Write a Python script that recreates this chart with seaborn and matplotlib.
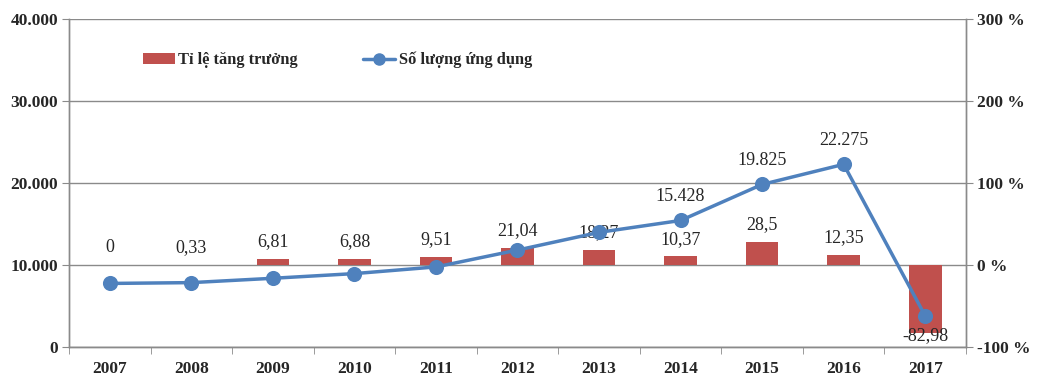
import numpy as np
import matplotlib
matplotlib.use("Agg")
import matplotlib.pyplot as plt
from matplotlib.ticker import FuncFormatter
from matplotlib.patches import Patch
from matplotlib.lines import Line2D
import seaborn as sns

# ==============================
# DATA
# ==============================

years = ["2007", "2008", "2009", "2010", "2011", "2012",
         "2013", "2014", "2015", "2016", "2017"]
growth = [0, 0.33, 6.81, 6.88, 9.51, 21.04, 18.27, 10.37, 28.5, 12.35, -82.98]
apps = [7750, 7850, 8380, 8950, 9765, 11819, 13979, 15428, 19825, 22275, 3791]
apps_labels = {"2014": "15.428", "2015": "19.825", "2016": "22.275"}

BAR_COLOR = "#C0504D"
LINE_COLOR = "#4F81BD"
AXIS_GRAY = "#8A8A8A"

# ==============================
# STYLE
# ==============================

sns.set_style("white")
plt.rcParams["font.family"] = ["Liberation Serif", "DejaVu Serif"]
plt.rcParams["font.weight"] = "bold"

fig, ax = plt.subplots(figsize=(10.38, 3.84), dpi=100)
fig.subplots_adjust(left=0.0665, right=0.9306, top=0.9505, bottom=0.0964)
ax2 = ax.twinx()

# bars: growth rate on the right axis
sns.barplot(x=years, y=growth, ax=ax2, color=BAR_COLOR, width=0.4,
            saturation=1, errorbar=None, linewidth=0, zorder=2)

# line: number of apps on the left axis
sns.pointplot(x=years, y=apps, ax=ax, color=LINE_COLOR, markers="o",
              markersize=9, linewidth=2.5, errorbar=None)

ax.set_zorder(ax2.get_zorder() + 1)
ax.patch.set_visible(False)

# ==============================
# AXES
# ==============================

ax.set_ylim(0, 40000)
ax.set_yticks([0, 10000, 20000, 30000, 40000])
ax.yaxis.set_major_formatter(FuncFormatter(lambda v, p: f"{int(v):,}".replace(",", ".")))
ax2.set_ylim(-100, 300)
ax2.set_yticks([-100, 0, 100, 200, 300])
ax2.yaxis.set_major_formatter(FuncFormatter(lambda v, p: f"{int(v)} %"))

ax2.yaxis.grid(True, color=AXIS_GRAY, linewidth=1)
ax2.set_axisbelow(True)
ax.grid(False)

ax.set_xlim(-0.5, len(years) - 0.5)
ax.set_xticks(np.arange(-0.5, len(years), 1), minor=True)
ax.tick_params(axis="x", which="major", length=0, pad=10, labelsize=12.5)
ax.tick_params(axis="x", which="minor", length=5, color=AXIS_GRAY, bottom=True)
ax.tick_params(axis="y", which="major", length=5, color=AXIS_GRAY, left=True,
               labelsize=12.5, pad=3)
ax2.tick_params(axis="y", which="major", length=5, color=AXIS_GRAY, right=True,
                labelsize=12.5, pad=3)

for a in (ax, ax2):
    a.set_xlabel("")
    a.set_ylabel("")
    a.spines["top"].set_visible(False)
    for s in ("left", "right", "bottom"):
        a.spines[s].set_color(AXIS_GRAY)
        a.spines[s].set_linewidth(1)

# ==============================
# DATA LABELS
# ==============================

for i, g in enumerate(growth):
    txt = f"{g:g}".replace(".", ",")
    if g >= 0:
        ax2.annotate(txt, (i, g), xytext=(0, 12.5), textcoords="offset points",
                     ha="center", va="center", fontsize=13, fontweight="normal")
    else:
        ax2.annotate(txt, (i, g), xytext=(0, -1.5), textcoords="offset points",
                     ha="center", va="center", fontsize=13, fontweight="normal")

for i, y in enumerate(years):
    if y in apps_labels:
        ax.annotate(apps_labels[y], (i, apps[i]), xytext=(0, 17),
                    textcoords="offset points", ha="center", va="center",
                    fontsize=13, fontweight="normal")

# ==============================
# LEGEND
# ==============================

handles = [
    Patch(facecolor=BAR_COLOR, edgecolor="none", label="Tỉ lệ tăng trưởng"),
    Line2D([], [], color=LINE_COLOR, marker="o", linewidth=2.5, markersize=8,
           label="Số lượng ứng dụng"),
]
fig.legend(handles=handles, loc="center left", bbox_to_anchor=(143 / 1038, 1 - 60 / 384),
           ncol=2, frameon=False, fontsize=11.8, borderpad=0, borderaxespad=0,
           handlelength=1.95, handletextpad=0.2, columnspacing=4.0, handleheight=0.67)

plt.savefig("out.png", dpi=100)
plt.close()
